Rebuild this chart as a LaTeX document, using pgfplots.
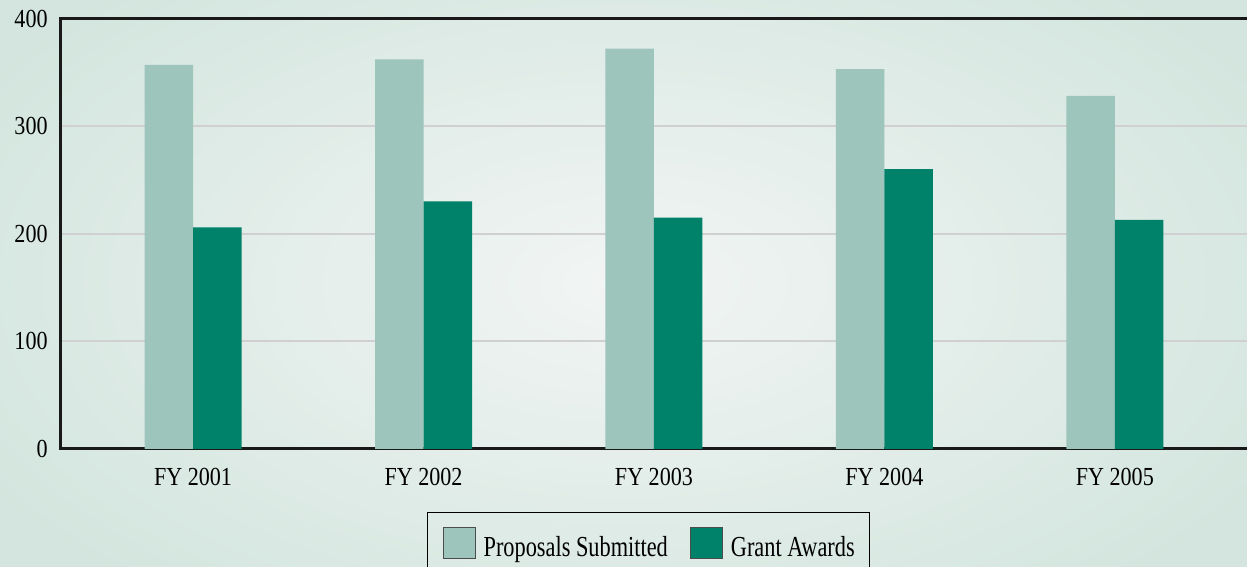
\documentclass[border=0pt]{standalone}
\usepackage{fontspec}
\setmainfont{Liberation Serif}[FakeStretch=0.85]
\newfontfamily\legfont{Liberation Serif}[FakeStretch=0.77]
\usepackage{pgfplots}
\pgfplotsset{compat=1.18}

\definecolor{bgedge}{HTML}{D3E5DE}
\definecolor{bgmid}{HTML}{F2F5F4}
\definecolor{propc}{HTML}{9DC5BB}
\definecolor{grantc}{HTML}{00826A}
\definecolor{gridc}{HTML}{D0D0D2}

\pgfplotstableread{
x prop grant
0 357 206
1 362 230
2 372 215
3 353 260
4 328 213
}\awards

\begin{document}
\begin{tikzpicture}
\path[use as bounding box] (0pt,0pt) rectangle (623.5pt,283.5pt);
\shade[inner color=bgmid, outer color=bgedge] (-60pt,-60pt) rectangle (683.5pt,343.5pt);
\begin{axis}[
  at={(30.5pt,59pt)}, anchor=south west,
  scale only axis,
  width=616pt, height=215.25pt,
  xmin=-0.573, xmax=4.773,
  ymin=0, ymax=400,
  ytick={0,100,...,400},
  xtick=data,
  xticklabels={FY 2001,FY 2002,FY 2003,FY 2004,FY 2005},
  major tick length=0pt,
  ymajorgrids,
  grid style={gridc, line width=1.1pt},
  axis line style={black!90, line width=1.5pt},
  ybar=0pt, bar width=24.25pt,
  /pgf/number format/assume math mode=true,
  tick label style={font=\fontsize{13}{15}\selectfont},
  yticklabel style={inner sep=0pt, xshift=-6.5pt},
  xticklabel style={inner sep=0pt, yshift=-9.5pt},
  legend columns=2,
  legend style={at={(0.477,-0.146)}, anchor=north, draw=black, line width=0.7pt,
    fill=none, font=\legfont\fontsize{14.5}{16}\selectfont,
    nodes={inner xsep=0pt},
    inner xsep=7.5pt, inner ysep=7pt,
    /tikz/every odd column/.append style={column sep=4pt},
    /tikz/every even column/.append style={column sep=11pt}},
  legend image code/.code={\draw[#1, draw=black!70, line width=0.5pt] (0pt,-5pt) rectangle (16pt,10.5pt);},
]
\addplot[fill=propc, draw=none] table[x=x, y=prop] {\awards};
\addlegendentry{Proposals Submitted}
\addplot[fill=grantc, draw=none] table[x=x, y=grant] {\awards};
\addlegendentry{Grant Awards}
\end{axis}
\end{tikzpicture}
\end{document}
